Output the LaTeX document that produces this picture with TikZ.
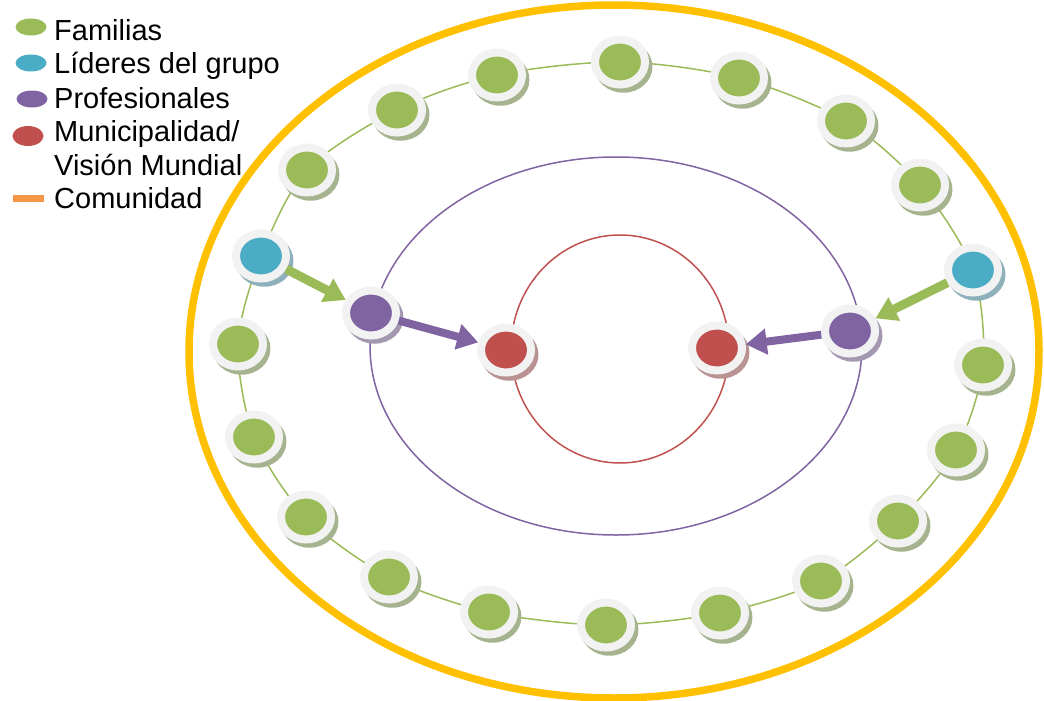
\documentclass[tikz,border=0pt]{standalone}
\usepackage{fontspec}
\setmainfont{Liberation Sans}
\usetikzlibrary{shapes.geometric,shadows,arrows.meta,backgrounds}

\definecolor{famcol}{HTML}{9BBB59}
\definecolor{famshade}{HTML}{A5B48F}
\definecolor{lidcol}{HTML}{4BACC6}
\definecolor{lidshade}{HTML}{8DB0BA}
\definecolor{procol}{HTML}{8064A2}
\definecolor{proshade}{HTML}{A398B0}
\definecolor{muncol}{HTML}{C0504D}
\definecolor{munshade}{HTML}{B89391}
\definecolor{ringcol}{HTML}{F2F2F2}
\definecolor{comcol}{HTML}{FFC000}
\definecolor{barcol}{HTML}{F79646}

\tikzset{
  disc/.style={ellipse, minimum width=50pt, minimum height=45pt, inner sep=0pt,
    line width=8pt, draw=ringcol, fill=#1col,
    drop shadow={shadow xshift=3pt, shadow yshift=-4pt, shadow scale=1.16,
      fill=#1shade, opacity=1}},
  key/.style={ellipse, minimum width=31pt, minimum height=17pt, inner sep=0pt, fill=#1},
  keytext/.style={anchor=base west, inner sep=0pt, align=left,
    font=\fontsize{29}{33.3}\selectfont},
  flow/.style={line width=9pt, draw=#1, -{Triangle[length=21pt, width=25pt, fill=#1]}},
}

\begin{document}
\begin{tikzpicture}[x=1pt, y=-1pt]
\useasboundingbox (0,0) rectangle (1044,701);

%circles
\draw[comcol, line width=7.5pt] (614,351.5) ellipse [x radius=425pt, y radius=346.5pt];
\draw[procol, line width=1.5pt] (616,346) ellipse [x radius=246pt, y radius=189pt];
\draw[muncol, line width=1.5pt] (620,349) ellipse [x radius=109pt, y radius=114pt];

%legend
\node (famkey) [key=famcol] at (31,27)  {};
\node (famtxt) [keytext]    at (54,41)  {Familias};
\node (lidkey) [key=lidcol] at (31,63)  {};
\node (lidtxt) [keytext]    at (54,74)  {Líderes del grupo};
\node (prokey) [key=procol] at (32,99)  {};
\node (protxt) [keytext]    at (54,108) {Profesionales};
\node (munkey) [key=muncol, minimum height=20pt] at (28,136) {};
\node (muntxt) [keytext]    at (54,175) {Municipalidad/\\Visión Mundial};
\node (comkey) [fill=barcol, minimum width=31pt, minimum height=7pt, inner sep=0pt] at (28,198) {};
\node (comtxt) [keytext]    at (54,208) {Comunidad};

%nodes
\node (b1)  [disc=lid] at (261,256) {};
\node (f1)  [disc=fam] at (307,170) {};
\node (f2)  [disc=fam] at (397,110) {};
\node (f3)  [disc=fam] at (497,75)  {};
\node (f4)  [disc=fam] at (620,62)  {};
\node (f5)  [disc=fam] at (739,78)  {};
\node (f6)  [disc=fam] at (846,121) {};
\node (f7)  [disc=fam] at (920,185) {};
\node (b2)  [disc=lid] at (973,270) {};
\node (f8)  [disc=fam] at (983,365) {};
\node (f9)  [disc=fam] at (956,450) {};
\node (f10) [disc=fam] at (898,521) {};
\node (f11) [disc=fam] at (821,581) {};
\node (f12) [disc=fam] at (720,613) {};
\node (f13) [disc=fam] at (606,625) {};
\node (f14) [disc=fam] at (489,612) {};
\node (f15) [disc=fam] at (389,577) {};
\node (f16) [disc=fam] at (306,517) {};
\node (f17) [disc=fam] at (254,437) {};
\node (f18) [disc=fam] at (238,344) {};

\node (p1) [disc=pro] at (371,313) {};
\node (p2) [disc=pro] at (850,331) {};
\node (r1) [disc=mun] at (506,350) {};
\node (r2) [disc=mun] at (717,348) {};

%links
\begin{scope}[on background layer]
\draw[famcol, line width=1.5pt] plot[smooth cycle] coordinates
  {(b1) (f1) (f2) (f3) (f4) (f5) (f6) (f7) (b2) (f8) (f9) (f10)
   (f11) (f12) (f13) (f14) (f15) (f16) (f17) (f18)};
\end{scope}
\draw[flow=famcol] (b1) -- (p1);
\draw[flow=famcol] (b2) -- (p2);
\draw[flow=procol, line width=8pt] (p1) -- (r1);
\draw[flow=procol, line width=8pt] (p2) -- (r2);
\end{tikzpicture}
\end{document}
